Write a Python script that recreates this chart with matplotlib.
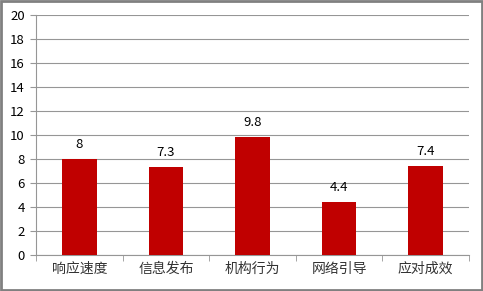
import matplotlib.pyplot as plt
from matplotlib.patches import Rectangle

plt.rcParams['font.family'] = ['Noto Sans CJK SC', 'DejaVu Sans']

categories = ['响应速度', '信息发布', '机构行为', '网络引导', '应对成效']
values = [8, 7.3, 9.8, 4.4, 7.4]
labels = ['8', '7.3', '9.8', '4.4', '7.4']
yticks = [0, 2, 4, 6, 8, 10, 12, 14, 16, 18, 20]

fig = plt.figure(figsize=(4.83, 2.91), dpi=100)
fig.patches.append(Rectangle((0.002, 0.003), 0.996, 0.994, transform=fig.transFigure,
                             fill=False, edgecolor='#808080', linewidth=2))
ax = fig.add_axes([36 / 483, 1 - 255 / 291, 433 / 483, 240 / 291])

x = list(range(len(categories)))
ax.bar(x, values, width=0.4, color='#C00000', zorder=3)
for xi, v, lab in zip(x, values, labels):
    ax.annotate(lab, (xi, v), xytext=(0, 6), textcoords='offset points',
                ha='center', va='bottom', fontsize=9.5, color='#000000')

ax.set_xlim(-0.5, len(categories) - 0.5)
ax.set_ylim(0, 20)
ax.set_yticks(yticks)
ax.set_yticklabels([str(t) for t in yticks], fontsize=9.5)
ax.yaxis.grid(True, color='#969696', linewidth=0.8, zorder=0)
ax.set_xticks(x)
ax.set_xticklabels(categories, fontsize=10, color='#333333')
ax.set_xticks([i - 0.5 for i in range(len(categories) + 1)], minor=True)
ax.tick_params(axis='x', which='major', length=0, pad=5)
ax.tick_params(axis='x', which='minor', length=4, color='#969696')
ax.tick_params(axis='y', length=4, color='#969696', pad=4)

for s in ['top', 'right']:
    ax.spines[s].set_visible(False)
ax.spines['left'].set_color('#969696')
ax.spines['bottom'].set_color('#969696')

fig.savefig('out.png', dpi=100)
